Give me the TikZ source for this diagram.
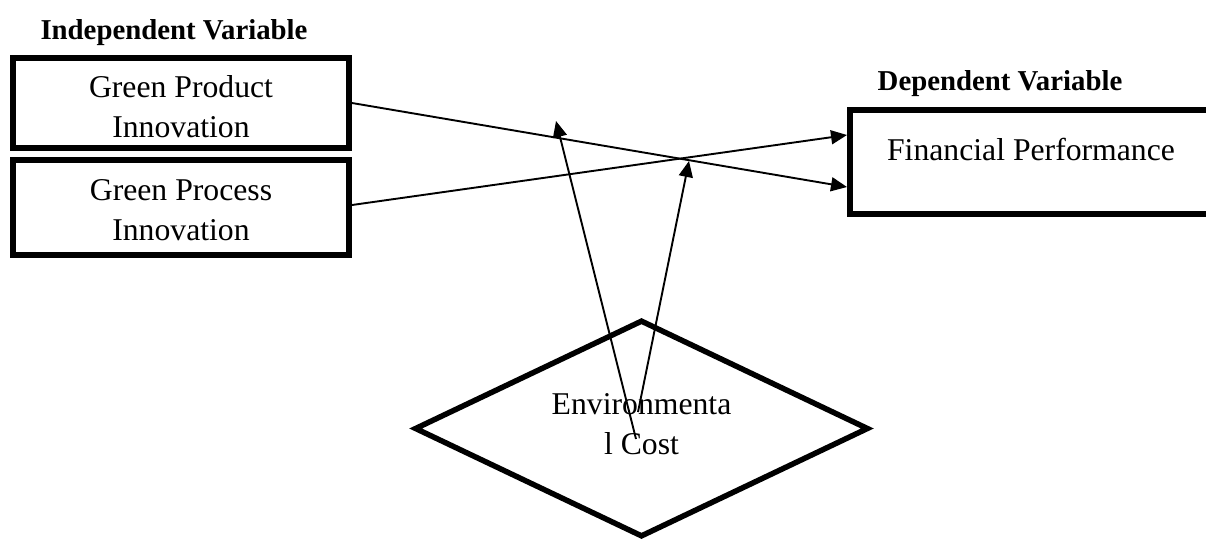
\documentclass[tikz,border=0pt]{standalone}
\usepackage{fontspec}
\setmainfont{Liberation Serif}
\usetikzlibrary{arrows.meta,shapes.geometric,calc}
\begin{document}
\begin{tikzpicture}[x=1pt,y=-1pt,
  boxnode/.style={draw, line width=6pt, rectangle, inner sep=0pt, align=center,
    font=\fontsize{31.7}{39.5}\selectfont},
  titlenode/.style={font=\fontsize{28.8}{34}\selectfont\bfseries, anchor=base, inner sep=0pt},
  conn/.style={line width=1.9pt, -{Triangle[length=16pt,width=14pt]}},
]
\fill[white] (0,0) rectangle (1206,541);
\useasboundingbox (0,0) rectangle (1206,541);

\node[titlenode] (indep) at (174,39) {Independent Variable};
\node[titlenode] (dep) at (1000,90) {Dependent Variable};

\node[boxnode, minimum width=336pt, minimum height=90pt, text height=75pt, text depth=7pt] (gpi) at (181,103) {Green Product\\Innovation};
\node[boxnode, minimum width=336pt, minimum height=95pt, text height=72pt, text depth=7pt] (gpr) at (181,207.5) {Green Process\\Innovation};
\node[boxnode, minimum width=362pt, minimum height=104pt, text height=22pt, text depth=26pt] (fp) at (1031,162) {Financial Performance};

\node[draw, diamond, aspect=2, line width=5.5pt, inner sep=0pt, minimum width=454pt, minimum height=217pt,
  align=center, text height=60pt, text depth=9pt, font=\fontsize{31.7}{39.5}\selectfont] (env) at (641.5,428.5) {Environmenta\\l Cost};

\draw[conn] (gpi.east) -- ([yshift=-25pt]fp.west);
\draw[conn] ([yshift=2.5pt]gpr.east) -- ([yshift=27pt]fp.west);

\coordinate (t1) at (556,121);
\coordinate (t2) at (689,161);
\draw[conn] ($(env.center)+(-5.5,10.5)$) -- (t1);
\draw[conn] ($(env.center)+(-3.5,-16.5)$) -- (t2);
\end{tikzpicture}
\end{document}
